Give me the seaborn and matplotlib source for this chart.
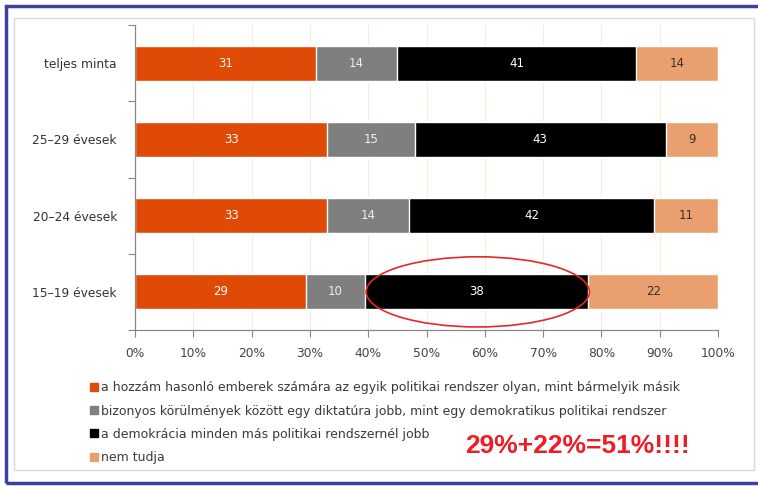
import numpy as np
import pandas as pd
import matplotlib
matplotlib.use("Agg")
import matplotlib.pyplot as plt
from matplotlib.patches import Ellipse, Rectangle
from matplotlib.lines import Line2D
import seaborn as sns

categories = ["teljes minta", "25–29 évesek", "20–24 évesek", "15–19 évesek"]
series_names = [
    "a hozzám hasonló emberek számára az egyik politikai rendszer olyan, mint bármelyik másik",
    "bizonyos körülmények között egy diktatúra jobb, mint egy demokratikus politikai rendszer",
    "a demokrácia minden más politikai rendszernél jobb",
    "nem tudja",
]
hasonlo = [31, 33, 33, 29]
diktatura = [14, 15, 14, 10]
demokracia = [41, 43, 42, 38]
nem_tudja = [14, 9, 11, 22]
xtick_labels = ["0%", "10%", "20%", "30%", "40%", "50%", "60%", "70%", "80%", "90%", "100%"]
annotation_text = "29%+22%=51%!!!!"

colors = ["#DF4A06", "#7F7F7F", "#000000", "#E9A06E"]
label_colors = ["white", "#EEEEEE", "white", "#333333"]

sns.set_theme(style="white")
plt.rcParams["font.family"] = ["DejaVu Sans"]

vals = np.array([hasonlo, diktatura, demokracia, nem_tudja], dtype=float)  # series x cat
shares = vals / vals.sum(axis=0) * 100
cum = np.cumsum(shares, axis=0)

fig = plt.figure(figsize=(7.58, 4.87), dpi=100)
ax = fig.add_axes([135 / 758, 1 - 330 / 487, (718 - 135) / 758, (330 - 25) / 487])

# gridlines
for gx in range(10, 101, 10):
    ax.axvline(gx, color="#F3EFD6", lw=0.8, zorder=0)

# draw stacked bars as overlapping cumulative bars (last first)
for i in range(3, -1, -1):
    df = pd.DataFrame({"cat": categories, "val": cum[i]})
    sns.barplot(data=df, x="val", y="cat", orient="h", color=colors[i],
                width=0.46, saturation=1, ax=ax, zorder=2)

# value labels
for i in range(4):
    for j in range(4):
        left = cum[i][j] - shares[i][j]
        ax.text(left + shares[i][j] / 2, j, f"{int(vals[i][j])}", ha="center", va="center",
                color=label_colors[i], fontsize=8.5, zorder=4)

ax.set_xlim(0, 100)
ax.set_ylim(3.5, -0.5)
ax.set_xticks(range(0, 101, 10))
ax.set_xticklabels(xtick_labels, fontsize=8.8, color="#444444")
ax.set_yticks(range(4))
ax.set_yticklabels(categories, fontsize=8.8, color="#333333")
ax.set_yticks([-0.5, 0.5, 1.5, 2.5, 3.5], minor=True)
ax.tick_params(axis="y", which="major", length=0, pad=13)
ax.tick_params(axis="y", which="minor", length=5, width=0.8, color="#888888", direction="out", left=True)
ax.tick_params(axis="x", which="major", length=5, width=0.8, color="#888888", direction="out", bottom=True, pad=7)
ax.set_xlabel("")
ax.set_ylabel("")
for s in ["top", "right"]:
    ax.spines[s].set_visible(False)
for s in ["left", "bottom"]:
    ax.spines[s].set_color("#888888")
    ax.spines[s].set_linewidth(0.9)

# red ellipse annotation
ell = Ellipse((58.8, 3.0), width=38.3, height=0.92, fill=False, edgecolor="#E8262A", lw=1.2, zorder=5, clip_on=False)
ax.add_patch(ell)

# legend
handles = [Line2D([0], [0], marker="s", linestyle="none", markersize=5.5,
                  markerfacecolor=c, markeredgecolor=c) for c in colors]
leg = fig.legend(handles, series_names, loc="upper left", bbox_to_anchor=(84 / 758, 1 - 375 / 487),
                 frameon=False, fontsize=9.0, handlelength=0.55, handletextpad=0.3,
                 labelspacing=0.82, borderpad=0)
for t in leg.get_texts():
    t.set_color("#3a3a3a")

fig.text(577 / 758, 1 - 446 / 487, annotation_text, ha="center", va="center", color="#EE1C25",
         fontsize=19, fontweight="bold", family=["Liberation Sans", "DejaVu Sans"])

# outer frames
fig.patches.append(Rectangle((14 / 758, 1 - 470 / 487), 740 / 758, 452 / 487, transform=fig.transFigure,
                             fill=False, edgecolor="#D9D9D9", lw=1.0))
fig.patches.append(Rectangle((6 / 758, 1 - 483 / 487), 760 / 758, 477 / 487, transform=fig.transFigure,
                             fill=False, edgecolor="#3F3F9E", lw=2.5))

fig.savefig("out.png", dpi=100)
